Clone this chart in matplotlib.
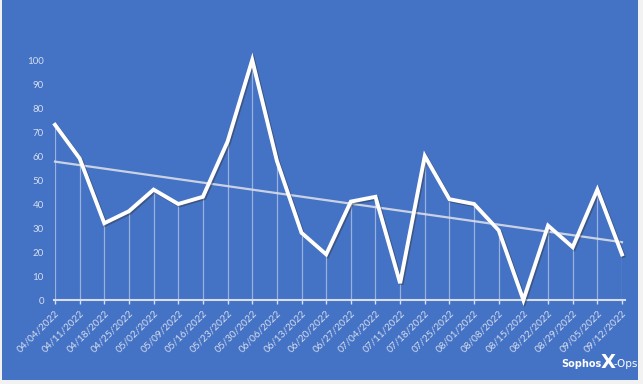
import matplotlib
matplotlib.use("Agg")
import matplotlib.pyplot as plt
import matplotlib.patheffects as pe
from matplotlib.patches import Rectangle
import numpy as np

dates = ["04/04/2022", "04/11/2022", "04/18/2022", "04/25/2022", "05/02/2022",
         "05/09/2022", "05/16/2022", "05/23/2022", "05/30/2022", "06/06/2022",
         "06/13/2022", "06/20/2022", "06/27/2022", "07/04/2022", "07/11/2022",
         "07/18/2022", "07/25/2022", "08/01/2022", "08/08/2022", "08/15/2022",
         "08/22/2022", "08/29/2022", "09/05/2022", "09/12/2022"]
values = [73, 59, 32, 37, 46, 40, 43, 66, 100, 58,
          28, 19, 41, 43, 7, 60, 42, 40, 29, 0,
          31, 22, 46, 19]
yticks = [0, 10, 20, 30, 40, 50, 60, 70, 80, 90, 100]

W, H = 643, 384
BG = "#4472C4"
LIGHT = "#D6DEEF"
plt.rcParams["font.family"] = ["Lato", "DejaVu Sans"]

fig = plt.figure(figsize=(W / 100, H / 100), dpi=100)
fig.patch.set_facecolor("#F2F2F2")
fig.patches.append(Rectangle((1.5 / W, 4.5 / H), 636.5 / W, 379.5 / H,
                             transform=fig.transFigure, facecolor=BG,
                             edgecolor="none", zorder=-5))

ax = fig.add_axes([55 / W, 1 - 300 / H, (622 - 55) / W, 240 / H])
ax.set_zorder(2)
ax.set_facecolor("none")
x = np.arange(len(values))
ax.set_xlim(0, len(values) - 1)
ax.set_ylim(0, 100)

# drop lines
ax.vlines(x, 0, values, colors="white", linewidth=0.9, alpha=0.45, zorder=1)

# trend line
coef = np.polyfit(x, values, 1)
ax.plot(x, np.polyval(coef, x), color="#D9DDE8", linewidth=1.6, alpha=0.9,
        zorder=2, clip_on=False)

# main line
ax.plot(x, values, color="white", linewidth=2.8, zorder=3, clip_on=False,
        solid_joinstyle="miter",
        path_effects=[pe.SimpleLineShadow(offset=(1, -1), shadow_color="#333333", alpha=0.45),
                      pe.Normal()])

for s in ["left", "right", "top"]:
    ax.spines[s].set_visible(False)
ax.spines["bottom"].set_color(LIGHT)
ax.spines["bottom"].set_linewidth(1.5)
ax.spines["bottom"].set_bounds(-0.06, len(values) - 1 + 0.12)

ax.set_yticks(yticks)
ax.set_yticklabels([str(v) for v in yticks])
ax.tick_params(axis="y", length=0, pad=8, labelsize=7, labelcolor=LIGHT)
ax.set_xticks(x)
ax.set_xticklabels(dates, rotation=45, ha="right", rotation_mode="anchor")
ax.tick_params(axis="x", length=3, width=1, color=LIGHT, direction="out",
               labelsize=7.2, labelcolor=LIGHT, pad=3)

# logo
fig.text(601 / W, 1 - 364 / H, "Sophos", color="white", fontsize=7,
         ha="right", va="center", fontweight="bold", family="DejaVu Sans Condensed")
fig.text(608 / W, 1 - 362 / H, "X", color="white", fontsize=14,
         ha="center", va="center", fontweight="bold", family="DejaVu Sans")
fig.text(614 / W, 1 - 364 / H, "-Ops", color="white", fontsize=7.5,
         ha="left", va="center", family="DejaVu Sans Condensed")

fig.savefig("out.png", dpi=100, facecolor=fig.get_facecolor())
